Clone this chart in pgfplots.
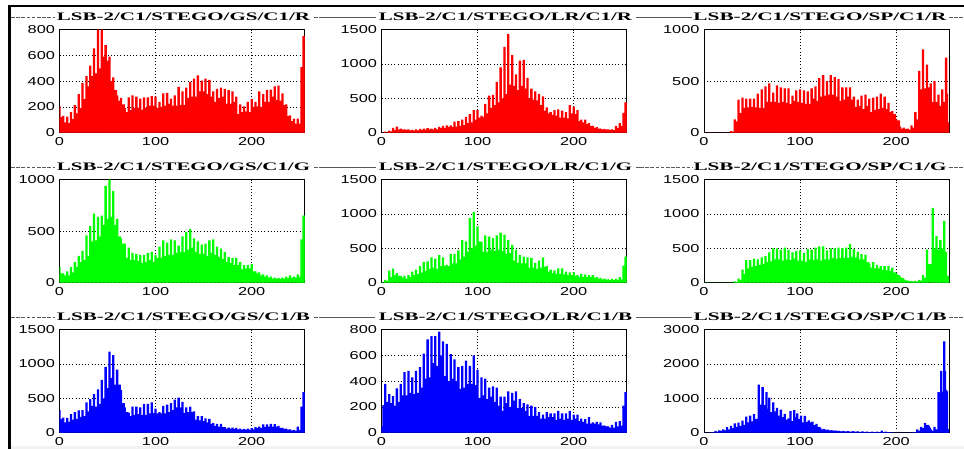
\documentclass[border=0pt]{standalone}
\usepackage{fontspec}
\usepackage{pgfplots}
\usepackage{pgfplotstable}
\pgfplotsset{compat=1.18}
\setmainfont{Liberation Serif}
\newfontfamily\tickfont[FakeStretch=1.42]{Liberation Sans}

% columns: bin, spike top, base level
\pgfplotstableread{
x s b
0 205 120
4 130 80
8 125 75
12 160 105
16 215 150
20 300 190
24 385 260
28 440 360
32 520 440
36 655 460
40 800 500
44 800 590
48 680 560
52 590 400
56 430 330
60 290 250
64 270 220
68 190 160
72 275 175
76 290 190
80 280 195
84 265 180
88 275 190
92 275 210
96 285 210
100 280 190
104 240 200
108 305 210
112 310 225
116 265 210
120 290 210
124 355 215
128 320 215
132 350 270
136 395 280
140 420 280
144 445 320
148 405 320
152 420 300
156 410 280
160 320 240
164 340 270
168 350 280
172 340 225
176 330 225
180 320 240
184 280 145
188 220 160
192 205 165
196 240 160
200 260 200
204 240 205
208 320 200
212 300 240
216 330 240
220 335 280
224 360 255
228 365 250
232 305 215
236 220 130
240 135 90
244 110 70
248 110 70
252 510 510
254 750 750
255 750 750
}\tGSR

\pgfplotstableread{
x s b
0 5 0
4 15 5
8 30 20
12 70 40
16 90 50
20 60 45
24 50 40
28 50 35
32 40 30
36 50 35
40 55 40
44 60 45
48 65 50
52 60 50
56 70 50
60 85 65
64 100 70
68 105 85
72 105 85
76 160 90
80 170 100
84 190 110
88 230 140
92 270 150
96 330 190
100 330 220
104 250 230
108 420 280
112 540 360
116 550 400
120 740 440
124 950 500
128 1250 560
132 1440 700
136 1130 680
140 850 620
144 1050 680
148 1060 640
152 800 500
156 640 480
160 600 470
164 560 400
168 530 320
172 370 280
176 300 260
180 330 250
184 340 220
188 320 220
192 300 210
196 400 280
200 380 270
204 330 170
208 190 150
212 190 130
216 140 100
220 100 70
224 80 60
228 60 50
232 55 45
236 50 40
240 50 40
244 100 70
248 140 100
252 290 280
254 440 440
255 440 440
}\tLRR

\pgfplotstableread{
x s b
0 0 0
24 0 0
28 15 10
32 130 110
36 320 190
40 340 240
44 330 245
48 330 250
52 330 245
56 380 240
60 420 240
64 450 300
68 480 300
72 390 300
76 460 290
80 440 300
84 430 290
88 430 280
92 360 310
96 410 300
100 420 290
104 410 280
108 400 280
112 430 330
116 450 310
120 530 350
124 560 360
128 500 370
132 560 370
136 540 350
140 520 310
144 440 320
148 440 350
152 440 320
156 350 250
160 320 260
164 360 230
168 370 260
172 330 200
176 340 220
180 350 230
184 380 240
188 350 230
192 290 200
196 210 180
200 130 120
204 60 40
208 50 35
212 40 30
216 70 50
220 200 130
224 600 420
228 810 430
232 660 440
236 480 300
240 500 300
244 370 260
248 420 300
252 730 380
254 100 100
255 100 100
}\tSPR

\pgfplotstableread{
x s b
0 150 90
4 90 70
8 110 70
12 150 100
16 200 150
20 260 200
24 310 220
28 460 260
32 550 400
36 670 410
40 640 450
44 650 560
48 940 620
52 1000 640
56 890 560
60 620 450
64 430 380
68 380 240
72 340 220
76 290 220
80 280 210
84 270 190
88 270 200
92 290 220
96 300 200
100 270 240
104 350 240
108 410 260
112 390 270
116 420 270
120 410 290
124 360 300
128 450 300
132 490 320
136 520 340
140 430 300
144 400 280
148 370 280
152 380 260
156 410 290
160 420 270
164 350 250
168 330 230
172 300 200
176 250 190
180 240 170
184 240 170
188 200 130
192 170 140
196 170 140
200 180 110
204 110 90
208 100 70
212 80 60
216 70 50
220 60 40
224 50 40
228 45 40
232 50 40
236 60 45
240 70 50
244 60 50
248 80 60
252 420 400
254 650 650
255 650 650
}\tGSG

\pgfplotstableread{
x s b
0 10 5
4 40 25
8 175 80
12 205 110
16 140 100
20 100 75
24 100 60
28 110 80
32 160 110
36 190 130
40 240 150
44 300 170
48 310 200
52 370 220
56 350 200
60 400 240
64 370 250
68 260 240
72 420 280
76 420 280
80 470 340
84 620 380
88 600 450
92 940 500
96 1030 540
100 820 600
104 590 450
108 690 450
112 670 480
116 650 460
120 690 480
124 730 460
128 700 420
132 620 430
136 550 320
140 480 290
144 400 280
148 380 280
152 370 220
156 360 220
160 290 200
164 320 220
168 370 230
172 240 160
176 190 140
180 180 130
184 210 130
188 210 120
192 160 110
196 150 110
200 150 100
204 110 85
208 130 85
212 120 85
216 110 80
220 110 70
224 80 60
228 70 50
232 60 45
236 50 40
240 55 40
244 60 40
248 80 50
252 250 240
254 380 380
255 380 380
}\tLRG

\pgfplotstableread{
x s b
0 0 0
28 0 0
32 20 10
36 60 40
40 190 130
44 330 210
48 330 230
52 350 240
56 340 260
60 370 270
64 390 300
68 440 310
72 500 340
76 500 340
80 480 320
84 510 340
88 480 330
92 440 350
96 460 320
100 470 320
104 430 300
108 490 340
112 480 330
116 510 340
120 530 320
124 530 340
128 470 340
132 500 360
136 500 350
140 510 360
144 500 360
148 510 360
152 560 380
156 490 370
160 450 340
164 420 340
168 410 300
172 280 220
176 300 210
180 260 210
184 240 190
188 240 180
192 240 170
196 220 150
200 140 110
204 90 70
208 50 35
212 30 20
216 25 15
220 25 15
224 40 30
228 110 70
232 480 270
238 1090 500
242 680 480
246 620 500
250 900 450
253 100 100
255 100 100
}\tSPG

\pgfplotstableread{
x s b
0 330 200
4 220 150
8 215 160
12 270 190
16 300 200
20 325 230
24 330 240
28 440 310
32 490 390
36 560 380
40 630 420
44 770 500
48 960 650
52 1180 800
56 1130 700
60 920 700
64 620 430
68 370 300
72 290 240
76 380 260
80 380 270
84 370 260
88 420 260
92 420 280
96 440 290
100 350 280
104 300 280
108 390 280
112 410 300
116 430 330
120 480 370
124 510 370
128 450 290
132 370 300
136 380 300
140 310 190
144 240 180
148 240 170
152 210 150
156 200 130
160 140 100
164 130 90
168 130 80
172 80 60
176 75 60
180 75 55
184 70 50
188 60 45
192 55 45
196 60 45
200 65 50
204 80 65
208 90 70
212 120 85
216 120 90
220 130 90
224 125 90
228 100 70
232 70 55
236 60 45
240 50 35
244 40 30
248 90 40
252 380 370
254 590 590
255 590 590
}\tGSB

\pgfplotstableread{
x s b
0 50 50
2 215 215
4 380 240
8 300 230
12 285 210
16 345 240
20 380 290
24 470 290
28 480 310
32 430 300
36 480 310
40 510 350
44 615 420
48 725 430
52 750 540
56 750 520
60 785 600
64 710 440
68 690 400
72 610 420
76 570 400
80 510 340
84 520 350
88 560 380
92 520 380
96 600 370
100 490 270
104 430 290
108 420 260
112 350 280
116 360 240
120 350 210
124 280 170
128 280 230
132 320 200
136 310 250
140 320 190
144 260 190
148 230 170
152 220 130
156 210 130
160 200 130
164 160 110
168 140 110
172 160 120
176 150 120
180 150 100
184 170 110
188 150 100
192 150 110
196 170 100
200 140 110
204 140 90
208 110 85
212 105 70
216 120 70
220 80 70
224 85 65
228 80 55
232 55 50
236 50 40
240 60 40
244 85 50
248 90 55
252 210 200
254 315 315
255 315 315
}\tLRB

\pgfplotstableread{
x s b
0 0 0
4 0 0
8 20 10
12 50 30
16 70 50
20 100 70
24 160 100
28 200 130
32 270 170
36 290 200
40 350 230
44 470 300
48 500 330
52 540 400
57 1400 820
61 1330 800
65 1180 700
68 1020 600
72 880 620
76 720 500
80 670 450
84 550 380
88 420 320
90 630 340
94 660 450
97 560 400
101 500 300
105 490 310
109 360 300
113 320 220
117 260 170
121 150 100
125 110 80
129 90 70
133 70 60
137 60 50
141 55 40
145 50 35
150 45 30
155 45 30
160 40 25
165 35 25
170 30 20
175 30 20
180 30 20
185 60 20
189 30 15
192 20 10
196 10 5
200 5 5
205 5 5
210 5 5
215 10 5
218 20 10
222 100 60
226 170 130
230 280 230
234 200 150
236 100 60
240 170 100
244 1180 1170
247 1800 1200
250 2660 1800
252 1250 1200
254 100 100
255 100 100
}\tSPB

\pgfplotsset{hist/.style={
  scale only axis, width=245pt, height=103pt,
  xmin=0, xmax=255, ymin=0,
  xtick={0,100,200},
  grid=major,
  grid style={black, line width=0.6pt, dash pattern=on 1pt off 2.2pt},
  major tick length=0pt,
  axis line style={black, line width=0.9pt},
  tick label style={font=\tickfont\fontsize{11.5}{12}\selectfont},
  /pgf/number format/assume math mode=true,
  /pgf/number format/1000 sep={},
  xticklabel style={yshift=-1pt},
  yticklabel style={xshift=-1pt},
  clip=true,
}}

% x-left, y-bottom (pixels from the top), ymax, yticks, table, colour
\newcommand\panel[6]{%
\begin{axis}[hist, at={({#1*1pt},{(449-#2)*1pt})}, anchor=south west, ymax=#3, ytick={#4}]
\addplot[draw=none, fill=#6, const plot mark left] table[x=x,y=b] {#5} \closedcycle;
\addplot[ybar, bar width=2.3pt, bar shift=0pt, draw=none, fill=#6] table[x=x,y=s] {#5};
\end{axis}}

% title, centred on cx, at y (pixels from the top)
\newcommand\ttl[3]{%
\node[inner sep=0pt, anchor=center] at ({#1},{449-#2})
  {\resizebox{253pt}{7.6pt}{\bfseries #3}};}

\begin{document}
\begin{tikzpicture}[x=1pt,y=1pt]
\path[use as bounding box] (0,0) rectangle (964,449);
\fill[gray!10] (11,0) rectangle (964,3);
\definecolor{rulegray}{gray}{0.35}
% frame
\draw[black, line width=2.6pt] (964,443) -- (9.5,443) -- (9.5,0);
% title rules
\begin{scope}[line width=0.8pt, rulegray]
\draw[dash pattern=on 3.6pt off 1.6pt] (11,432) -- (55,432) (314,432) -- (320,432);
\draw (320,432) -- (376,432) (636,432) -- (640,432);
\draw (640,432) -- (692,432);
\draw[dash pattern=on 3.6pt off 1.6pt] (949,432) -- (964,432);
\draw[dash pattern=on 3.6pt off 1.6pt] (11,282) -- (55,282) (314,282) -- (320,282);
\draw (320,282) -- (376,282) (636,282) -- (640,282);
\draw[dash pattern=on 3.6pt off 1.6pt] (640,282) -- (693,282) (949,282) -- (964,282);
\draw[dash pattern=on 3.6pt off 1.6pt] (11,132) -- (55,132) (314,132) -- (320,132);
\draw (320,132) -- (375,132) (636,132) -- (640,132);
\draw (640,132) -- (692,132);
\draw[dash pattern=on 3.6pt off 1.6pt] (949,132) -- (964,132);
\end{scope}
\ttl{183.5}{17}{LSB-2/C1/STEGO/GS/C1/R}
\ttl{505.5}{17}{LSB-2/C1/STEGO/LR/C1/R}
\ttl{820}{17}{LSB-2/C1/STEGO/SP/C1/R}
\ttl{183.5}{167}{LSB-2/C1/STEGO/GS/C1/G}
\ttl{505.5}{167}{LSB-2/C1/STEGO/LR/C1/G}
\ttl{820}{167}{LSB-2/C1/STEGO/SP/C1/G}
\ttl{183.5}{317}{LSB-2/C1/STEGO/GS/C1/B}
\ttl{505.5}{317}{LSB-2/C1/STEGO/LR/C1/B}
\ttl{820}{317}{LSB-2/C1/STEGO/SP/C1/B}
% panels
\panel{59.5}{132.7}{800}{0,200,400,600,800}{\tGSR}{red}
\panel{381.5}{132.7}{1500}{0,500,1000,1500}{\tLRR}{red}
\panel{704}{132.7}{1000}{0,500,1000}{\tSPR}{red}
\panel{59.5}{282.7}{1000}{0,500,1000}{\tGSG}{green}
\panel{381.5}{282.7}{1500}{0,500,1000,1500}{\tLRG}{green}
\panel{704}{282.7}{1500}{0,500,1000,1500}{\tSPG}{green}
\panel{59.5}{432.7}{1500}{0,500,1000,1500}{\tGSB}{blue}
\panel{381.5}{432.7}{800}{0,200,400,600,800}{\tLRB}{blue}
\panel{704}{432.7}{3000}{0,1000,2000,3000}{\tSPB}{blue}
\end{tikzpicture}
\end{document}
